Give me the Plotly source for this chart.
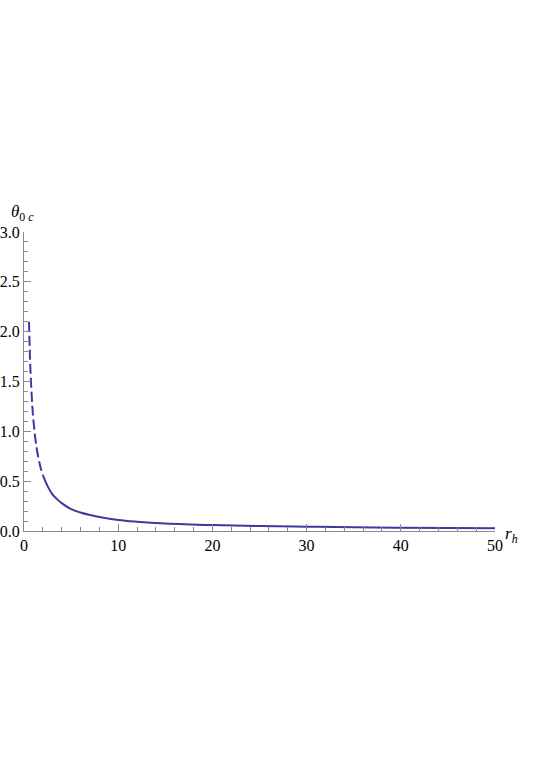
import plotly.graph_objects as go

# values
r_h = [0.53, 0.6, 0.7, 0.8, 0.9, 1.0, 1.2, 1.4, 1.7, 2.0, 2.5, 3.0, 3.5, 4.0,
       5.0, 6.0, 7.0, 8.0, 10, 12, 15, 20, 25, 30, 35, 40, 45, 50]
theta_0c = [2.10, 1.85, 1.58, 1.39, 1.23, 1.11, 0.93, 0.80, 0.66, 0.56, 0.45,
            0.37, 0.32, 0.28, 0.22, 0.185, 0.16, 0.14, 0.11, 0.093, 0.076,
            0.060, 0.050, 0.043, 0.037, 0.033, 0.030, 0.028]

x_ticks = [0, 10, 20, 30, 40, 50]
y_ticks = [0.0, 0.5, 1.0, 1.5, 2.0, 2.5, 3.0]

axis_col = "#8a8a8a"
line_col = "rgb(58,58,160)"
font = dict(family="Liberation Serif, serif", size=16, color="black")

# steep part near the top is drawn broken in the reference
n_steep = 10
fig = go.Figure()
fig.add_trace(go.Scatter(
    x=r_h[:n_steep], y=theta_0c[:n_steep], mode="lines", line_shape="spline",
    line=dict(color=line_col, width=2, dash="10px,4px"), showlegend=False,
))
fig.add_trace(go.Scatter(
    x=r_h[n_steep - 1:], y=theta_0c[n_steep - 1:], mode="lines", line_shape="spline",
    line=dict(color=line_col, width=2), showlegend=False,
))

fig.update_xaxes(
    range=[0, 50], tickvals=x_ticks, ticktext=[str(v) for v in x_ticks],
    showgrid=False, zeroline=False, showline=True, linecolor=axis_col, linewidth=1,
    ticks="inside", ticklen=7, tickcolor=axis_col, automargin=False,
    minor=dict(dtick=2, ticks="inside", ticklen=4, tickcolor=axis_col, showgrid=False),
    tickfont=font,
)
fig.update_yaxes(
    range=[0, 3], tickvals=y_ticks, ticktext=[f"{v:.1f}" for v in y_ticks],
    showgrid=False, zeroline=False, showline=True, linecolor=axis_col, linewidth=1,
    ticks="inside", ticklen=7, tickcolor=axis_col, automargin=False,
    minor=dict(dtick=0.1, ticks="inside", ticklen=4, tickcolor=axis_col, showgrid=False),
    tickfont=font,
)

fig.add_annotation(x=0, y=1, xref="paper", yref="paper", xanchor="center", yanchor="bottom",
                   yshift=6, xshift=-2, showarrow=False,
                   text="<i>θ</i><sub>0 <i>c</i></sub>", font=dict(font, size=17))
fig.add_annotation(x=1, y=0, xref="paper", yref="paper", xanchor="left", yanchor="middle",
                   xshift=8, yshift=-4, showarrow=False,
                   text="<i>r</i><sub><i>h</i></sub>", font=dict(font, size=17))

fig.update_layout(
    width=537, height=760,
    margin=dict(l=24, r=42, t=232, b=229),
    plot_bgcolor="white", paper_bgcolor="white",
    font=font,
)

# drop the browser's default body margin so the figure sits at the page corner
fig.write_html("out.html", config={"displayModeBar": False},
               post_script="document.body.style.margin='0';")
